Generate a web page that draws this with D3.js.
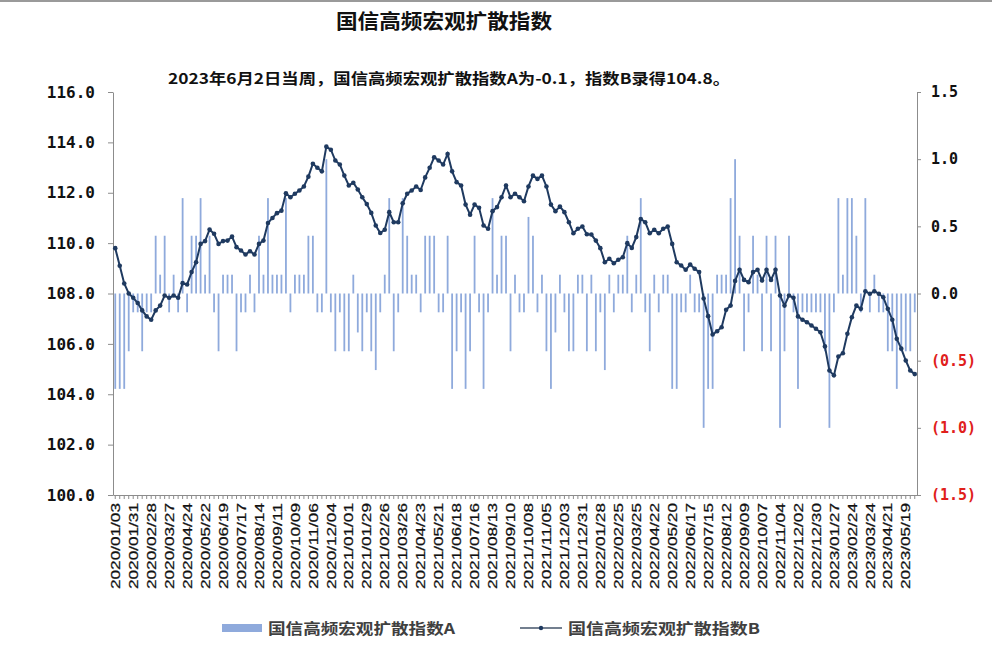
<!DOCTYPE html>
<html><head><meta charset="utf-8">
<script src="https://cdn.jsdelivr.net/npm/d3@7"></script>
<style>body{margin:0;background:#fff;} svg{display:block}</style>
</head><body>
<svg id="c" width="992" height="664"></svg>
<script>
const titleText = "国信高频宏观扩散指数";
const subtitleText = "2023年6月2日当周，国信高频宏观扩散指数A为-0.1，指数B录得104.8。";
const seriesNames = ["国信高频宏观扩散指数A", "国信高频宏观扩散指数B"];
const startDate = "2020-01-03";
const weekCount = 179;
const tickLabels = ["2020/01/03","2020/01/31","2020/02/28","2020/03/27","2020/04/24","2020/05/22","2020/06/19","2020/07/17","2020/08/14","2020/09/11","2020/10/09","2020/11/06","2020/12/04","2021/01/01","2021/01/29","2021/02/26","2021/03/26","2021/04/23","2021/05/21","2021/06/18","2021/07/16","2021/08/13","2021/09/10","2021/10/08","2021/11/05","2021/12/03","2021/12/31","2022/01/28","2022/02/25","2022/03/25","2022/04/22","2022/05/20","2022/06/17","2022/07/15","2022/08/12","2022/09/09","2022/10/07","2022/11/04","2022/12/02","2022/12/30","2023/01/27","2023/02/24","2023/03/24","2023/04/21","2023/05/19"];
// Index A (right axis), weekly
const indexA = [-0.71,-0.71,-0.71,-0.43,-0.14,-0.14,-0.43,-0.14,-0.14,0.43,
 0.14,0.43,-0.14,0.14,-0.14,0.71,-0.14,0.43,0.43,0.71,
 0.14,0.43,-0.14,-0.43,0.14,0.14,0.14,-0.43,-0.14,-0.14,
 0.14,-0.14,0.43,0.14,0.71,0.14,0.14,0.14,0.71,-0.14,
 0.14,0.14,0.14,0.43,0.43,-0.14,-0.14,1.0,-0.14,-0.43,
 -0.14,-0.43,-0.43,0.14,-0.29,-0.43,-0.14,-0.43,-0.57,-0.14,
 0.14,0.71,-0.43,-0.14,0.71,0.43,0.14,0.14,-0.14,0.43,
 0.43,0.43,-0.14,-0.14,0.43,-0.71,-0.43,-0.14,-0.71,-0.43,
 0.43,-0.14,-0.71,-0.14,0.71,0.14,0.43,0.43,-0.43,0.14,
 -0.14,-0.14,0.57,0.43,-0.14,0.14,-0.43,-0.71,-0.29,0.14,
 -0.14,-0.43,-0.43,0.14,0.14,-0.43,0.14,-0.43,-0.14,-0.57,
 0.14,-0.14,0.14,0.14,0.43,-0.14,0.14,0.71,-0.14,-0.43,
 0.14,-0.14,0.14,0.14,-0.71,-0.71,-0.14,-0.14,0.14,-0.14,
 -0.14,-1.0,-0.71,-0.71,0.14,0.14,0.14,0.71,1.0,0.43,
 -0.43,-0.14,0.43,0.14,-0.43,0.43,-0.43,0.43,-1.0,-0.43,
 0.43,-0.14,-0.71,-0.14,-0.14,-0.14,-0.14,-0.14,-0.43,-1.0,
 -0.14,0.71,0.14,0.71,0.71,0.43,-0.14,0.71,-0.14,0.14,
 -0.14,-0.14,-0.43,-0.43,-0.71,-0.43,-0.43,-0.43,-0.14];
// Index B (left axis), weekly
const indexB = [109.8,109.1,108.4,108.0,107.83,107.62,107.33,107.09,106.96,107.33,
 107.52,107.92,107.83,107.92,107.83,108.41,108.36,108.85,109.24,109.97,
 110.08,110.54,110.37,109.97,110.08,110.10,110.26,109.84,109.71,109.55,
 109.68,109.55,109.97,110.10,110.8,111.0,111.19,111.29,111.98,111.82,
 111.96,112.09,112.25,112.64,113.15,112.99,112.85,113.83,113.71,113.28,
 113.12,112.68,112.29,112.40,112.13,111.82,111.55,111.2,110.7,110.4,
 110.53,111.23,110.83,110.83,111.58,111.96,112.09,112.25,112.11,112.61,
 112.99,113.41,113.28,113.12,113.54,112.85,112.42,112.29,111.53,111.13,
 111.53,111.40,110.70,110.57,111.27,111.43,111.82,112.29,111.82,111.96,
 111.82,111.66,112.25,112.68,112.55,112.68,112.25,111.53,111.27,111.45,
 111.23,110.83,110.39,110.57,110.66,110.35,110.34,110.1,109.8,109.24,
 109.38,109.20,109.34,109.44,110.0,109.81,110.24,110.96,110.83,110.39,
 110.53,110.39,110.57,110.66,109.97,109.24,109.11,108.94,109.15,108.98,
 108.85,107.8,107.1,106.37,106.5,106.66,107.35,107.52,108.5,108.94,
 108.54,108.45,108.85,108.94,108.52,108.94,108.54,108.94,107.92,107.52,
 107.92,107.83,107.09,106.96,106.86,106.73,106.60,106.46,105.9,104.94,
 104.75,105.5,105.63,106.4,107.06,107.52,107.39,108.09,107.99,108.09,
 107.99,107.85,107.39,106.96,106.2,105.81,105.34,104.94,104.8];
const leftTicks = [100,102,104,106,108,110,112,114,116];
const rightTicks = [-1.5,-1.0,-0.5,0,0.5,1.0,1.5];

const fmtDate = d3.utcFormat("%Y/%m/%d");
const start = new Date(startDate + "T00:00:00Z");
const dates = d3.range(weekCount).map(i => fmtDate(d3.utcDay.offset(start, 7 * i)));

const svg = d3.select("#c");
const L = 113, R = 917, T = 92, B = 495;

svg.append("rect").attr("x",0).attr("y",0).attr("width",992).attr("height",664).attr("fill","#fff");
svg.append("line").attr("x1",0).attr("x2",992).attr("y1",1).attr("y2",1).attr("stroke","#9a9a9a").attr("stroke-width",2);

const x = d3.scaleBand().domain(dates).range([L, R]).padding(0);
const yL = d3.scaleLinear().domain([100, 116]).range([B, T]);
const yR = d3.scaleLinear().domain([-1.5, 1.5]).range([B, T]);
const cx = d => x(d) + x.bandwidth() / 2;

// Title & subtitle
svg.append("text").attr("x", 336).attr("y", 29).attr("textLength", 216).attr("lengthAdjust", "spacingAndGlyphs")
  .attr("font-family", "'Noto Sans CJK SC', sans-serif").attr("font-weight", "bold").attr("font-size", 20)
  .attr("fill", "#111").text(titleText);
svg.append("text").attr("x", 168).attr("y", 84).attr("textLength", 562).attr("lengthAdjust", "spacingAndGlyphs")
  .attr("font-family", "'Noto Sans CJK SC', sans-serif").attr("font-weight", "bold").attr("font-size", 15)
  .attr("fill", "#111").text(subtitleText);

// Bars (A)
svg.append("g").selectAll("rect").data(indexA.map((v, i) => ({d: dates[i], v})))
  .join("rect")
  .attr("x", p => cx(p.d) - 0.9)
  .attr("width", 1.8)
  .attr("y", p => Math.min(yR(p.v), yR(0)))
  .attr("height", p => Math.abs(yR(p.v) - yR(0)))
  .attr("fill", "#8faadc");

// Axes
const axisStyle = g => {
  g.selectAll(".domain").attr("stroke", "#8c8c8c");
  g.selectAll(".tick line").attr("stroke", "#8c8c8c");
};
const gL = svg.append("g").attr("transform", `translate(${L},0)`)
  .call(d3.axisLeft(yL).tickValues(leftTicks).tickSize(5).tickSizeOuter(0).tickPadding(13).tickFormat(d3.format(".1f")));
axisStyle(gL);
gL.selectAll("text").attr("font-family", "'DejaVu Sans Mono', monospace").attr("font-weight", "bold").attr("font-size", 16).attr("fill", "#111");

const gR = svg.append("g").attr("transform", `translate(${R},0)`)
  .call(d3.axisRight(yR).tickValues(rightTicks).tickSize(4).tickSizeOuter(0).tickPadding(10)
    .tickFormat(v => v < 0 ? "(" + d3.format(".1f")(-v) + ")" : d3.format(".1f")(v)));
axisStyle(gR);
gR.selectAll("text").attr("font-family", "'DejaVu Sans Mono', monospace").attr("font-weight", "bold").attr("font-size", 15)
  .attr("fill", v => v < 0 ? "#e0201b" : "#111");

const gB = svg.append("g").attr("transform", `translate(0,${B})`)
  .call(d3.axisBottom(x).tickSize(4).tickSizeOuter(0).tickFormat(""));
axisStyle(gB);

// X tick labels
svg.append("g").selectAll("text").data(tickLabels).join("text")
  .attr("transform", d => `translate(${cx(d)},503) rotate(-90)`)
  .attr("text-anchor", "end").attr("dy", "0.36em")
  .attr("textLength", 86).attr("lengthAdjust", "spacingAndGlyphs")
  .attr("font-family", "'Liberation Sans', Arial, sans-serif").attr("font-size", 13).attr("fill", "#111")
  .attr("stroke", "#111").attr("stroke-width", 0.25)
  .text(d => d);

// Line (B)
const line = d3.line().x((v, i) => cx(dates[i])).y(v => yL(v));
svg.append("path").datum(indexB).attr("d", line).attr("fill", "none").attr("stroke", "#1f3a60").attr("stroke-width", 2);
svg.append("g").selectAll("circle").data(indexB).join("circle")
  .attr("cx", (v, i) => cx(dates[i])).attr("cy", v => yL(v)).attr("r", 2.3).attr("fill", "#1f3a60");

// Legend
const lg = svg.append("g");
lg.append("rect").attr("x", 222).attr("y", 624).attr("width", 40).attr("height", 8).attr("fill", "#8faadc");
lg.append("text").attr("x", 268).attr("y", 634).attr("textLength", 187).attr("lengthAdjust", "spacingAndGlyphs")
  .attr("font-family", "'Noto Sans CJK SC', sans-serif").attr("font-weight", "bold").attr("font-size", 15).attr("fill", "#404040")
  .text(seriesNames[0]);
lg.append("line").attr("x1", 520).attr("x2", 562).attr("y1", 628).attr("y2", 628).attr("stroke", "#44546a").attr("stroke-width", 1.5);
lg.append("circle").attr("cx", 541).attr("cy", 628).attr("r", 2.2).attr("fill", "#1f3a60");
lg.append("text").attr("x", 568).attr("y", 634).attr("textLength", 192).attr("lengthAdjust", "spacingAndGlyphs")
  .attr("font-family", "'Noto Sans CJK SC', sans-serif").attr("font-weight", "bold").attr("font-size", 15).attr("fill", "#404040")
  .text(seriesNames[1]);
</script>
</body></html>
